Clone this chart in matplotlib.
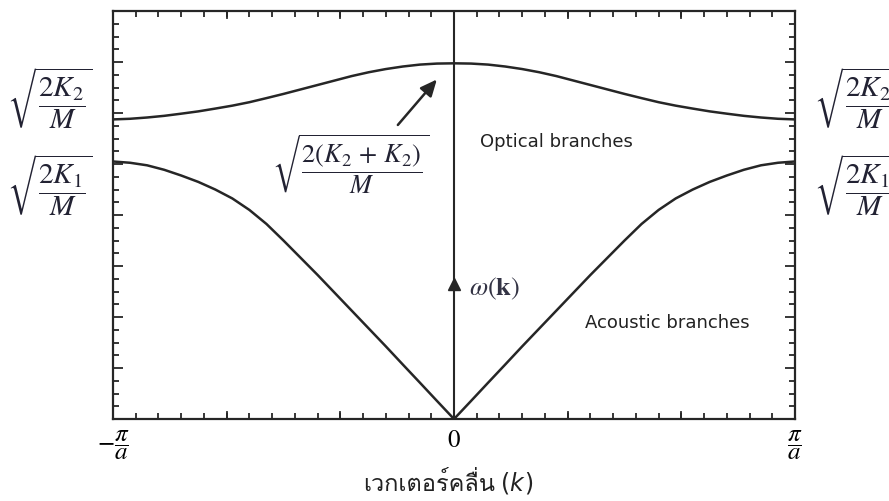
import numpy as np
import matplotlib
matplotlib.use("Agg")
import matplotlib.pyplot as plt
from matplotlib import font_manager
from matplotlib.ft2font import FT2Font
from matplotlib.ticker import MultipleLocator

plt.rcParams["mathtext.fontset"] = "stix"

# dispersion branches, right half of the zone (k in units of pi/a); mirrored for k < 0
k_grid = [0.0, 0.05, 0.10, 0.15, 0.20, 0.25, 0.30, 0.35, 0.40, 0.45, 0.50,
          0.55, 0.60, 0.65, 0.70, 0.75, 0.80, 0.85, 0.90, 0.95, 1.0]
w_acoustic = [0.0, 1.42, 2.85, 4.27, 5.7, 7.1, 8.5, 9.9, 11.3, 12.65, 14.0,
              15.3, 16.4, 17.3, 18.0, 18.6, 19.1, 19.55, 19.9, 20.1, 20.2]
w_optical = [27.9, 27.88, 27.8, 27.65, 27.45, 27.2, 26.9, 26.55, 26.2, 25.85,
             25.5, 25.17, 24.85, 24.58, 24.35, 24.13, 23.95, 23.78, 23.65,
             23.55, 23.5]

w_max = 32.0
x_labels = [r"$-\dfrac{\pi}{a}$", r"$0$", r"$\dfrac{\pi}{a}$"]
edge_labels = [r"$\sqrt{\dfrac{2K_2}{M}}$", r"$\sqrt{\dfrac{2K_1}{M}}$"]
peak_label = r"$\sqrt{\dfrac{2(K_2\,+\,K_2)}{M}}$"
xlabel_text = "เวกเตอร์คลื่น"


def thai_font():
    for f in font_manager.fontManager.ttflist:
        try:
            if 0x0E27 in FT2Font(f.fname).get_charmap():
                return f.name
        except Exception:
            continue
    return "DejaVu Sans"


def mirror(k, w):
    k = np.asarray(k)
    w = np.asarray(w)
    return np.concatenate([-k[::-1], k[1:]]), np.concatenate([w[::-1], w[1:]])


fig = plt.figure(figsize=(8.89, 5.02), dpi=100)
ax = fig.add_axes([0.1271, 0.1633, 0.7672, 0.8127])
ink = "#262626"

for w in (w_acoustic, w_optical):
    kk, ww = mirror(k_grid, w)
    ax.plot(kk, ww, color=ink, lw=1.8, solid_capstyle="round",
            solid_joinstyle="round")

# omega axis through k = 0
ax.plot([0, 0], [0, w_max], color=ink, lw=1.5)
ax.plot([0], [10.6], marker="^", color=ink, ms=9)
ax.text(0.045, 10.3, r"$\omega(\mathbf{k})$", fontsize=19, color="#333344",
        va="center", ha="left")

ax.annotate("", xy=(-0.045, 26.8), xytext=(-0.17, 22.9),
            arrowprops=dict(arrowstyle="-|>,head_length=1.0,head_width=0.45",
                            color=ink, lw=1.8))
ax.text(-0.305, 20.0, peak_label, fontsize=19, ha="center", va="center",
        color="#222233")

ax.text(0.075, 21.8, "Optical branches", fontsize=13, family="DejaVu Sans",
        ha="left", va="center", color="#222222")
ax.text(0.383, 7.6, "Acoustic branches", fontsize=13, family="DejaVu Sans",
        ha="left", va="center", color="#222222")

ax.set_xlim(-1, 1)
ax.set_ylim(0, w_max)
ax.set_xticks([-1, 0, 1])
ax.set_xticklabels(x_labels, fontsize=18)
ax.xaxis.set_minor_locator(MultipleLocator(1 / 15))
ax.set_yticks(np.arange(0, w_max + 1, 4))
ax.set_yticklabels([])
ax.yaxis.set_minor_locator(MultipleLocator(1))
ax.tick_params(which="both", direction="in", top=True, right=True, width=1.3,
               color=ink)
ax.tick_params(which="major", length=7, pad=6)
ax.tick_params(which="minor", length=4)
for s in ax.spines.values():
    s.set_linewidth(1.6)
    s.set_color(ink)

# extra long ticks every fifth minor step on the k axis
for xv in np.arange(-15, 16, 5) / 15:
    if abs(xv) in (0, 1):
        continue
    ax.plot([xv, xv], [0, 0.55], color=ink, lw=1.3)
    ax.plot([xv, xv], [w_max, w_max - 0.55], color=ink, lw=1.3)

# branch-edge frequencies on both sides
for lab, yp in zip(edge_labels, (98, 185)):
    fig.text(50 / 889, 1 - yp / 502, lab, fontsize=21, ha="center",
             va="center", color="#222233")
    fig.text(814 / 889, 1 - yp / 502, lab, fontsize=21, ha="left",
             va="center", color="#222233")

# k-axis caption: Thai text followed by an italic k
tf = thai_font()
cap_y = 1 - 484 / 502
t1 = fig.text(363 / 889, cap_y, xlabel_text, fontsize=17,
              family=[tf, "DejaVu Sans"], ha="left", va="center",
              color="#222222")
fig.canvas.draw()
bb = t1.get_window_extent(fig.canvas.get_renderer())
fig.text((bb.x1 + 6) / 889, cap_y, "(", fontsize=17, family="DejaVu Sans",
         ha="left", va="center", color="#222222")
t2 = fig.text((bb.x1 + 14) / 889, cap_y, "k", fontsize=17, style="italic",
              family="DejaVu Sans", ha="left", va="center", color="#222222")
fig.canvas.draw()
bb2 = t2.get_window_extent(fig.canvas.get_renderer())
fig.text((bb2.x1 + 2) / 889, cap_y, ")", fontsize=17, family="DejaVu Sans",
         ha="left", va="center", color="#222222")

fig.savefig("out.png", dpi=100)
